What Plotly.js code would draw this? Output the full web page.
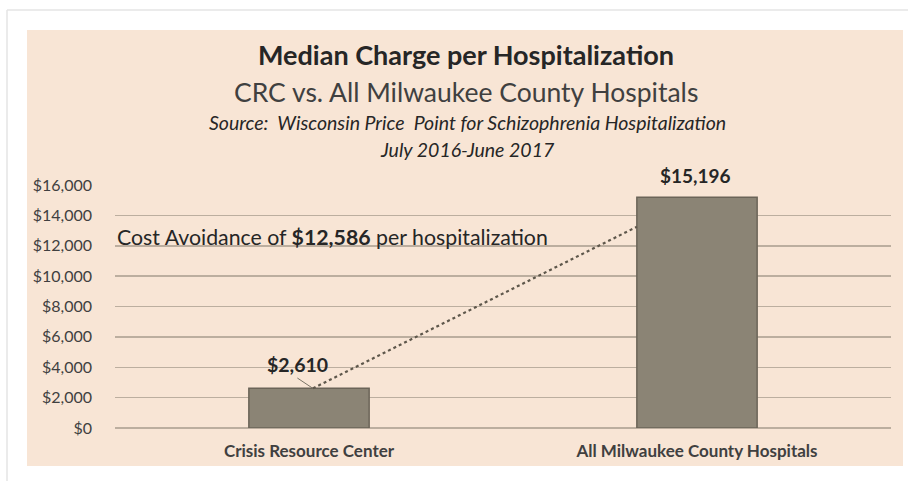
<!DOCTYPE html>
<html>
<head>
<meta charset="utf-8">
<script src="https://cdn.plot.ly/plotly-3.0.1.min.js"></script>
<style>html,body{margin:0;padding:0;background:#fff;}#chart{width:908px;height:481px;}</style>
</head>
<body>
<div id="chart"></div>
<script>
// ---- data ----
var categories = ["Crisis Resource Center", "All Milwaukee County Hospitals"];
var medianCharge = [2610, 15196];
var valueLabels = ["$2,610", "$15,196"];
var costAvoidance = 12586;
var connectorEndValue = 13250;
var yTickValues = [0, 2000, 4000, 6000, 8000, 10000, 12000, 14000, 16000];
var yTickLabels = ["$0", "$2,000", "$4,000", "$6,000", "$8,000", "$10,000", "$12,000", "$14,000", "$16,000"];

// ---- layout helpers (pixel -> paper) ----
var W = 908, H = 481, mL = 115, mR = 17, mT = 185, mB = 53;
var pw = W - mL - mR, ph = H - mT - mB;
function px(x) { return (x - mL) / pw; }
function py(y) { return (H - mB - y) / ph; }

var FONT = "Lato, 'Open Sans', sans-serif";
var barWidth = 0.31;

var trace = {
  type: "bar",
  x: categories,
  y: medianCharge,
  width: barWidth,
  marker: { color: "#8b8475", line: { color: "#6b6458", width: 1.5 } },
  hoverinfo: "skip"
};

var layout = {
  width: W, height: H,
  margin: { l: mL, r: mR, t: mT, b: mB, pad: 0 },
  paper_bgcolor: "#ffffff",
  plot_bgcolor: "rgba(0,0,0,0)",
  showlegend: false,
  font: { family: FONT, color: "#404040" },
  title: {
    text: "<b>Median Charge per Hospitalization</b>",
    font: { family: FONT, size: 27, color: "#262626" },
    xref: "container", yref: "container",
    x: 466 / W, xanchor: "center",
    y: 1 - 56 / H, yanchor: "middle"
  },
  xaxis: {
    type: "category",
    showgrid: false, zeroline: false, showline: false,
    ticks: "",
    tickfont: { family: FONT, size: 17, color: "#404040", weight: "bold" },
    ticklabelstandoff: 11,
    range: [-0.5, 1.5],
    fixedrange: true
  },
  yaxis: {
    range: [0, 16000],
    tickmode: "array",
    tickvals: yTickValues,
    ticktext: yTickLabels,
    showgrid: true, gridcolor: "#bcae9f", gridwidth: 1.5,
    zeroline: true, zerolinecolor: "#bcae9f", zerolinewidth: 1.5,
    showline: false, ticks: "",
    tickfont: { family: FONT, size: 16, color: "#404040" },
    ticklabelstandoff: 22,
    fixedrange: true
  },
  shapes: [
    // beige panel
    { type: "rect", xref: "paper", yref: "paper", layer: "below",
      x0: px(27), x1: px(903), y0: py(466), y1: py(30),
      fillcolor: "#f8e5d5", line: { width: 0 } },
    // light outer frame
    { type: "line", xref: "paper", yref: "paper", layer: "below",
      x0: px(7), x1: px(7), y0: py(481), y1: py(10),
      line: { color: "#e4e4e4", width: 1.5 } },
    { type: "line", xref: "paper", yref: "paper", layer: "below",
      x0: px(7), x1: px(908), y0: py(10), y1: py(10),
      line: { color: "#e4e4e4", width: 1.5 } },
    // leader line for CRC label
    { type: "line", xref: "x", yref: "y", layer: "above",
      x0: -0.03, y0: medianCharge[0] + 680, x1: 0.01, y1: medianCharge[0],
      line: { color: "#7a7366", width: 1 } },
    // dotted connector
    { type: "line", xref: "x", yref: "y", layer: "above",
      x0: 0.01, y0: medianCharge[0], x1: 1 - barWidth / 2, y1: connectorEndValue,
      line: { color: "#5e574b", width: 2.2, dash: "dot" } }
  ],
  annotations: [
    { xref: "paper", yref: "paper", x: px(466), y: py(92), xanchor: "center", yanchor: "middle",
      text: "CRC vs. All Milwaukee County Hospitals", showarrow: false,
      font: { family: FONT, size: 26.5, color: "#404040" } },
    { xref: "paper", yref: "paper", x: px(467), y: py(122), xanchor: "center", yanchor: "middle",
      text: "<i>Source:  Wisconsin Price  Point for Schizophrenia Hospitalization</i>", showarrow: false,
      font: { family: FONT, size: 19.5, color: "#262626" } },
    { xref: "paper", yref: "paper", x: px(467), y: py(149), xanchor: "center", yanchor: "middle",
      text: "<i>July 2016-June 2017</i>", showarrow: false,
      font: { family: FONT, size: 19.5, color: "#262626" } },
    { xref: "paper", yref: "y", x: px(115), y: costAvoidance, xanchor: "left", yanchor: "middle",
      text: "Cost Avoidance of <b>$" + costAvoidance.toLocaleString("en-US") + "</b> per hospitalization",
      showarrow: false, font: { family: FONT, size: 21.3, color: "#262626" } },
    { xref: "x", yref: "y", x: categories[0], y: medianCharge[0], xanchor: "center", yanchor: "middle",
      xshift: -12, yshift: 24,
      text: "<b>" + valueLabels[0] + "</b>", showarrow: false,
      font: { family: FONT, size: 19.5, color: "#262626" } },
    { xref: "x", yref: "y", x: categories[1], y: medianCharge[1], xanchor: "center", yanchor: "middle",
      xshift: -1.5, yshift: 22,
      text: "<b>" + valueLabels[1] + "</b>", showarrow: false,
      font: { family: FONT, size: 19, color: "#262626" } }
  ]
};

Plotly.newPlot("chart", [trace], layout, { displayModeBar: false, staticPlot: true });
</script>
</body>
</html>
